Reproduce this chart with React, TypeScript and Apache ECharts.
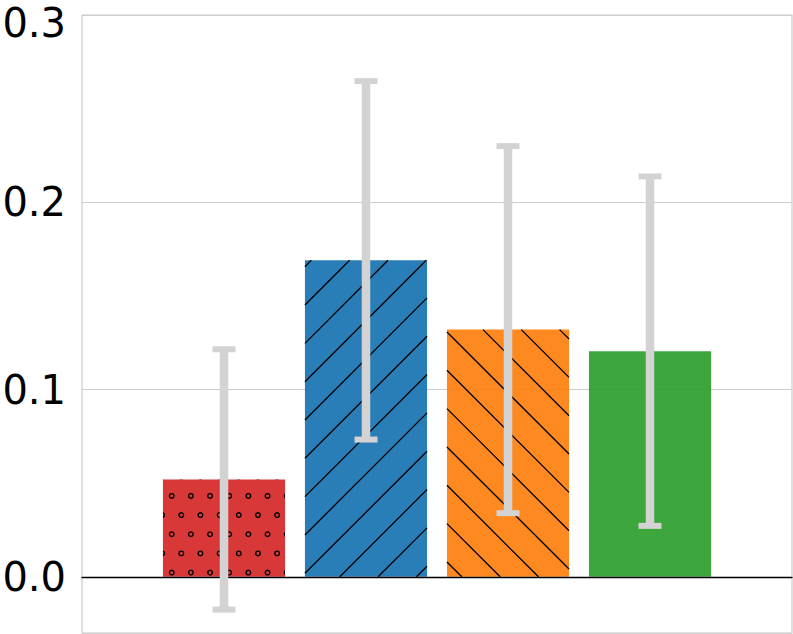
import React, { useEffect, useRef } from 'react';
import * as echarts from 'echarts';

const positions = [0, 1, 2, 3];
const values = [0.052, 0.169, 0.132, 0.1205];
const errors = [0.0695, 0.0957, 0.098, 0.0933];
const colors = ['rgba(214,39,40,0.92)', 'rgba(31,119,180,0.95)', 'rgba(255,127,14,0.92)', 'rgba(44,160,44,0.92)'];
const hatches = ['o', '/', '\\', ''];
const yTicks = [0, 0.1, 0.2, 0.3];

const BAR_HALF = 0.43;
const HATCH_SP = 38.33;
const DOT_SP = HATCH_SP / 2;

function mod(a: number, m: number) {
  return ((a % m) + m) % m;
}

export default function App() {
  const ref = useRef<HTMLDivElement>(null);
  useEffect(() => {
    if (!ref.current) return;
    const chart = echarts.init(ref.current, undefined, { renderer: 'svg' });
    const barData = positions.map((p, i) => [p, values[i]]);
    const errData = positions.map((p, i) => [p, values[i], errors[i]]);
    const labelFont = { fontSize: 40, fontFamily: 'DejaVu Sans', color: '#000000', lineHeight: 40 };
    chart.setOption({
      animation: false,
      grid: {
        left: 82,
        top: 15,
        right: 1,
        bottom: 1,
        containLabel: false,
        outerBoundsMode: 'none',
        show: true,
        borderColor: '#cccccc',
        borderWidth: 1.2,
        backgroundColor: 'transparent',
      },
      xAxis: {
        type: 'value',
        min: -1,
        max: 4,
        z: 3,
        axisLine: { show: true, onZero: true, lineStyle: { color: '#000000', width: 1.3 } },
        axisTick: { show: false },
        axisLabel: { show: false },
        splitLine: { show: false },
      },
      yAxis: {
        type: 'value',
        min: -0.03,
        max: 0.3,
        splitNumber: 3,
        axisLine: { show: false },
        axisTick: { show: false },
        splitLine: { show: true, lineStyle: { color: '#cccccc', width: 1 } },
        axisLabel: {
          margin: 16,
          ...labelFont,
          formatter: (v: number) => {
            const t = yTicks.find((k) => Math.abs(k - v) < 1e-9);
            if (t === undefined) return '';
            const s = t.toFixed(1);
            return t === yTicks[yTicks.length - 1] ? '{top|' + s + '}' : s;
          },
          rich: {
            top: { ...labelFont, padding: [16, 0, 0, 0] },
          },
        },
      },
      series: [
        {
          type: 'custom',
          z: 2,
          data: barData,
          renderItem: (params: any, api: any) => {
            const i = params.dataIndex;
            const x = api.value(0);
            const v = api.value(1);
            const p0 = api.coord([x - BAR_HALF, v]);
            const p1 = api.coord([x + BAR_HALF, 0]);
            const x0 = p0[0], y0 = p0[1], x1 = p1[0], y1 = p1[1];
            const children: any[] = [
              { type: 'rect', shape: { x: x0, y: y0, width: x1 - x0, height: y1 - y0 }, style: { fill: colors[i] } },
            ];
            const h = hatches[i];
            const lineStyle = { stroke: '#000000', lineWidth: 1.3 };
            if (h === '/') {
              const phase = 35;
              let c = x0 + y0 - mod(x0 + y0 - phase, HATCH_SP);
              for (; c <= x1 + y1 + HATCH_SP; c += HATCH_SP) {
                const xa = Math.max(x0, c - y1);
                const xb = Math.min(x1, c - y0);
                if (xb > xa) {
                  children.push({ type: 'line', shape: { x1: xa, y1: c - xa, x2: xb, y2: c - xb }, style: lineStyle });
                }
              }
            } else if (h === '\\') {
              const phase = 0;
              let c = y0 - x1 - mod(y0 - x1 - phase, HATCH_SP);
              for (; c <= y1 - x0 + HATCH_SP; c += HATCH_SP) {
                const xa = Math.max(x0, y0 - c);
                const xb = Math.min(x1, y1 - c);
                if (xb > xa) {
                  children.push({ type: 'line', shape: { x1: xa, y1: xa + c, x2: xb, y2: xb + c }, style: lineStyle });
                }
              }
            } else if (h === 'o') {
              const rowPhase = 16.8;
              const dots: any[] = [];
              let yy = y0 - mod(y0 - rowPhase, DOT_SP) - DOT_SP;
              for (; yy <= y1 + DOT_SP; yy += DOT_SP) {
                const r = Math.round((yy - rowPhase) / DOT_SP);
                const xPhase = Math.abs(r) % 2 === 1 ? 18.4 : 8.8;
                let xx = x0 - mod(x0 - xPhase, DOT_SP) - DOT_SP;
                for (; xx <= x1 + DOT_SP; xx += DOT_SP) {
                  dots.push({
                    type: 'circle',
                    shape: { cx: xx, cy: yy, r: 2.3 },
                    style: { fill: 'none', stroke: '#000000', lineWidth: 1.4 },
                  });
                }
              }
              children.push({
                type: 'group',
                clipPath: { type: 'rect', shape: { x: x0, y: y0, width: x1 - x0, height: y1 - y0 } },
                children: dots,
              });
            }
            return { type: 'group', children };
          },
        },
        {
          type: 'custom',
          z: 4,
          data: errData,
          renderItem: (params: any, api: any) => {
            const x = api.value(0);
            const v = api.value(1);
            const e = api.value(2);
            const top = api.coord([x, v + e]);
            const bot = api.coord([x, v - e]);
            const cx = top[0];
            const fill = '#d3d3d3';
            return {
              type: 'group',
              children: [
                { type: 'rect', shape: { x: cx - 4.25, y: top[1], width: 8.5, height: bot[1] - top[1] }, style: { fill } },
                { type: 'rect', shape: { x: cx - 11.5, y: top[1] - 3, width: 23, height: 6 }, style: { fill } },
                { type: 'rect', shape: { x: cx - 11.5, y: bot[1] - 3, width: 23, height: 6 }, style: { fill } },
              ],
            };
          },
        },
      ],
    });
    return () => chart.dispose();
  }, []);
  return (
    <div
      ref={ref}
      style={{ position: 'fixed', left: 0, top: 0, width: 793, height: 634, background: '#ffffff' }}
    />
  );
}
